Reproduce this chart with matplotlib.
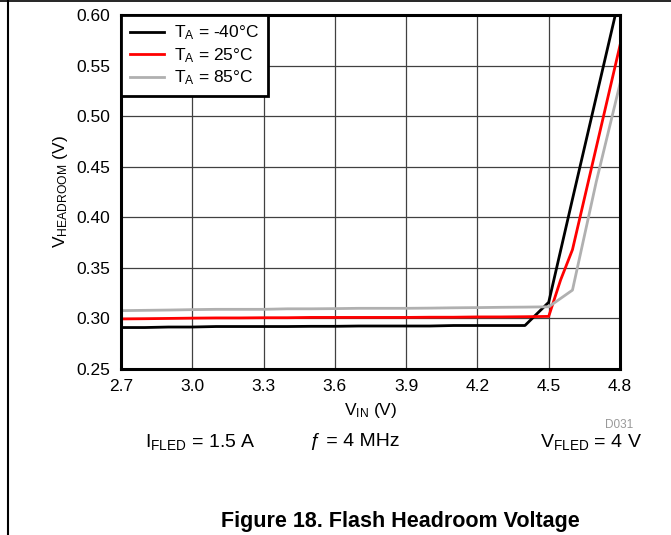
import matplotlib
matplotlib.use("Agg")
import matplotlib.pyplot as plt
from matplotlib.lines import Line2D
from matplotlib import ticker

plt.rcParams['font.family'] = ['Liberation Sans', 'DejaVu Sans']
plt.rcParams['mathtext.fontset'] = 'custom'
plt.rcParams['mathtext.rm'] = 'Liberation Sans'
plt.rcParams['mathtext.it'] = 'Liberation Sans:italic'

# data (VIN in V, headroom in V)
vin = [2.7, 2.8, 2.9, 3.0, 3.1, 3.2, 3.3, 3.4, 3.5, 3.6, 3.7,
       3.8, 3.9, 4.0, 4.1, 4.2, 4.3, 4.4, 4.5, 4.6, 4.7, 4.8]
v_m40 = [0.291, 0.291, 0.2915, 0.2915, 0.292, 0.292, 0.292, 0.292, 0.2922, 0.2922, 0.2925,
         0.2925, 0.2925, 0.2925, 0.293, 0.293, 0.293, 0.293, 0.316, 0.418, 0.519, 0.620]
vin_25 = [2.7, 2.8, 2.9, 3.0, 3.1, 3.2, 3.3, 3.4, 3.5, 3.6, 3.7,
          3.8, 3.9, 4.0, 4.1, 4.2, 4.3, 4.4, 4.5, 4.55, 4.6, 4.7, 4.8]
v_25 = [0.2995, 0.2997, 0.300, 0.3003, 0.3005, 0.3005, 0.3007, 0.3007, 0.301, 0.301, 0.301,
        0.301, 0.301, 0.3012, 0.3012, 0.3015, 0.3015, 0.3017, 0.302, 0.338, 0.368, 0.469, 0.570]
v_85 = [0.3077, 0.308, 0.3083, 0.3087, 0.309, 0.309, 0.309, 0.3095, 0.3095, 0.3097, 0.310,
        0.310, 0.310, 0.3102, 0.3105, 0.3107, 0.311, 0.3112, 0.3115, 0.328, 0.435, 0.532]

xticks = [2.7, 3.0, 3.3, 3.6, 3.9, 4.2, 4.5, 4.8]
yticks = [0.25, 0.30, 0.35, 0.40, 0.45, 0.50, 0.55, 0.60]

fig = plt.figure(figsize=(6.71, 5.35), dpi=100)
ax = fig.add_axes([121/671, 1 - 369/535, (620 - 121)/671, (369 - 15)/535])

ax.plot(vin, v_m40, color='black', lw=2, label=r'$\mathregular{T_A}$ = -40°C', zorder=3)
ax.plot(vin_25, v_25, color='#ff0000', lw=2, label=r'$\mathregular{T_A}$ = 25°C', zorder=3)
ax.plot(vin, v_85, color='#b0b0b0', lw=2, label=r'$\mathregular{T_A}$ = 85°C', zorder=3)

ax.set_xlim(2.7, 4.8)
ax.set_ylim(0.25, 0.60)
ax.set_xticks(xticks)
ax.set_yticks(yticks)
ax.xaxis.set_major_formatter(ticker.StrMethodFormatter("{x:.1f}"))
ax.yaxis.set_major_formatter(ticker.StrMethodFormatter("{x:.2f}"))
ax.tick_params(axis='both', length=0, labelsize=12.5, colors='black')
ax.tick_params(axis='y', pad=8)
ax.tick_params(axis='x', pad=7)
ax.grid(True, color='#404040', lw=0.9, zorder=1)
for s in ax.spines.values():
    s.set_linewidth(2.2)
    s.set_color('black')
    s.set_zorder(5)

ax.set_xlabel(r'$\mathregular{V_{IN}}$ (V)', fontsize=12.5, labelpad=5)
ax.set_ylabel(r'$\mathregular{V_{HEADROOM}}$ (V)', fontsize=12.5, labelpad=4)

leg = ax.legend(loc='upper left', bbox_to_anchor=(0, 1), fontsize=12.5, frameon=True,
                fancybox=False, framealpha=1, borderaxespad=0, handlelength=1.95,
                handletextpad=0.6, labelspacing=0.22, borderpad=0.5)
leg.get_frame().set_edgecolor('black')
leg.get_frame().set_linewidth(2)
leg.set_zorder(6)

fig.text(633/671, 1 - 425/535, 'D031', fontsize=8.5, color='#999999', ha='right', va='center')
fig.text(145/671, 1 - 442/535, r'$\mathregular{I_{FLED}}$ = 1.5 A', fontsize=14, ha='left', va='center')
fig.text(355/671, 1 - 442/535, 'ƒ = 4 MHz', fontsize=14, ha='center', va='center')
fig.text(642/671, 1 - 442/535, r'$\mathregular{V_{FLED}}$ = 4 V', fontsize=14, ha='right', va='center')
fig.text(400/671, 1 - 521/535, 'Figure 18. Flash Headroom Voltage', fontsize=15.5,
         fontweight='bold', ha='center', va='center')

# page frame lines
fig.add_artist(Line2D([0, 1], [1 - 1/535, 1 - 1/535], color='black', lw=1.2))
fig.add_artist(Line2D([8/671, 8/671], [0, 1], color='black', lw=1.5))

fig.savefig('out.png', dpi=100)
plt.close()
